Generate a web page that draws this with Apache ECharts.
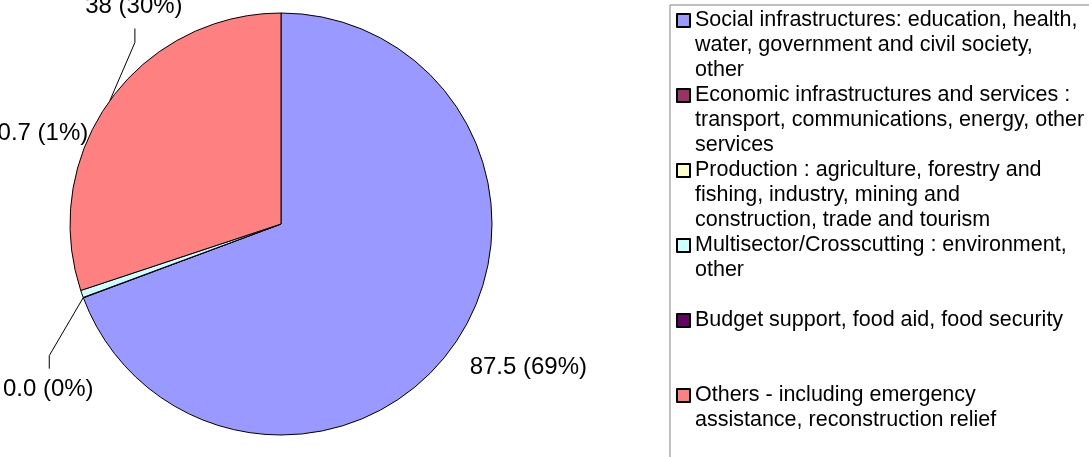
<!DOCTYPE html>
<html>
<head>
<meta charset="utf-8">
<style>
  html, body { margin: 0; padding: 0; background: #fff; }
  #chart { width: 1089px; height: 457px; }
</style>
<script src="https://cdn.jsdelivr.net/npm/echarts@6.0.0/dist/echarts.min.js"></script>
</head>
<body>
<div id="chart"></div>
<script>
const categories = [
  'Social infrastructures: education, health, water, government and civil society, other',
  'Economic infrastructures and services : transport, communications, energy, other services',
  'Production : agriculture, forestry and fishing, industry, mining and construction, trade and tourism',
  'Multisector/Crosscutting : environment, other',
  'Budget support, food aid, food security',
  'Others - including emergency assistance, reconstruction relief',
]

// legend text as it wraps in the original, three rows per entry
const legendLines = [
  ['Social infrastructures: education, health,', 'water, government and civil society,', 'other'],
  ['Economic infrastructures and services :', 'transport, communications, energy, other', 'services'],
  ['Production : agriculture, forestry and', 'fishing, industry, mining and', 'construction, trade and tourism'],
  ['Multisector/Crosscutting : environment,', 'other', ''],
  ['Budget support, food aid, food security', '', ''],
  ['Others - including emergency', 'assistance, reconstruction relief', ''],
]

const values = [87.5, 0.04, null, 0.7, null, 38]

const colors = ['#9999FF', '#993366', '#FFFFCC', '#CCFFFF', '#660066', '#FF8080']

const FONT = "'Liberation Sans', Arial, sans-serif"

// label spots, as offsets from the point where the slice meets the rim
const labelSpots = {
  0: { label: [74, 23] },
  1: { bend: [-34, 58], end: [-34, 71], label: [-35, 92] },
  3: { label: [-39, -161] },
  5: { bend: [25, -58], end: [25, -72], label: [24, -94] },
}

function formatValue(v) {
  return Number.isInteger(v) ? String(v) : v.toFixed(1)
}

const chart = echarts.init(document.getElementById('chart'))

chart.setOption({
  animation: false,
  backgroundColor: '#fff',
  legend: {
    orient: 'vertical',
    left: 670,
    top: 5,
    width: 600,
    height: 1000,
    padding: [3, 20, 20, 6],
    borderColor: '#808080',
    borderWidth: 1,
    itemGap: 0,
    itemWidth: 13,
    itemHeight: 63,
    icon: 'path://M0,0h13v13h-13zM0,63',
    selectedMode: false,
    data: categories,
    formatter: (name) => legendLines[categories.indexOf(name)].join('\n'),
    textStyle: {
      fontFamily: FONT,
      fontSize: 21.5,
      lineHeight: 25,
      color: '#000',
      backgroundColor: 'rgba(255,255,255,0)',
    },
  },
  series: [
    {
      type: 'pie',
      center: [281, 224],
      radius: 211,
      startAngle: 90,
      clockwise: true,
      avoidLabelOverlap: false,
      percentPrecision: 0,
      silent: true,
      itemStyle: { borderColor: '#000', borderWidth: 1 },
      label: {
        show: true,
        position: 'outside',
        width: 140,
        overflow: 'none',
        fontFamily: FONT,
        fontSize: 24,
        color: '#000',
        formatter: (p) => `${formatValue(p.value)} (${p.percent}%)`,
      },
      labelLine: { show: true, smooth: false, lineStyle: { color: '#000', width: 1 } },
      labelLayout: (params) => {
        const spot = labelSpots[params.dataIndex]
        const pts = params.labelLinePoints
        if (!spot || !pts) return {}
        const a = pts[0]
        const at = (o) => [a[0] + o[0], a[1] + o[1]]
        const pos = at(spot.label)
        return {
          x: pos[0],
          y: pos[1],
          align: 'center',
          verticalAlign: 'middle',
          labelLinePoints: spot.bend ? [a, at(spot.bend), at(spot.end)] : [a, a, a],
        }
      },
      data: values.map((v, i) => ({
        name: categories[i],
        value: v,
        itemStyle: { color: colors[i] },
      })),
    },
  ],
})
</script>
</body>
</html>
